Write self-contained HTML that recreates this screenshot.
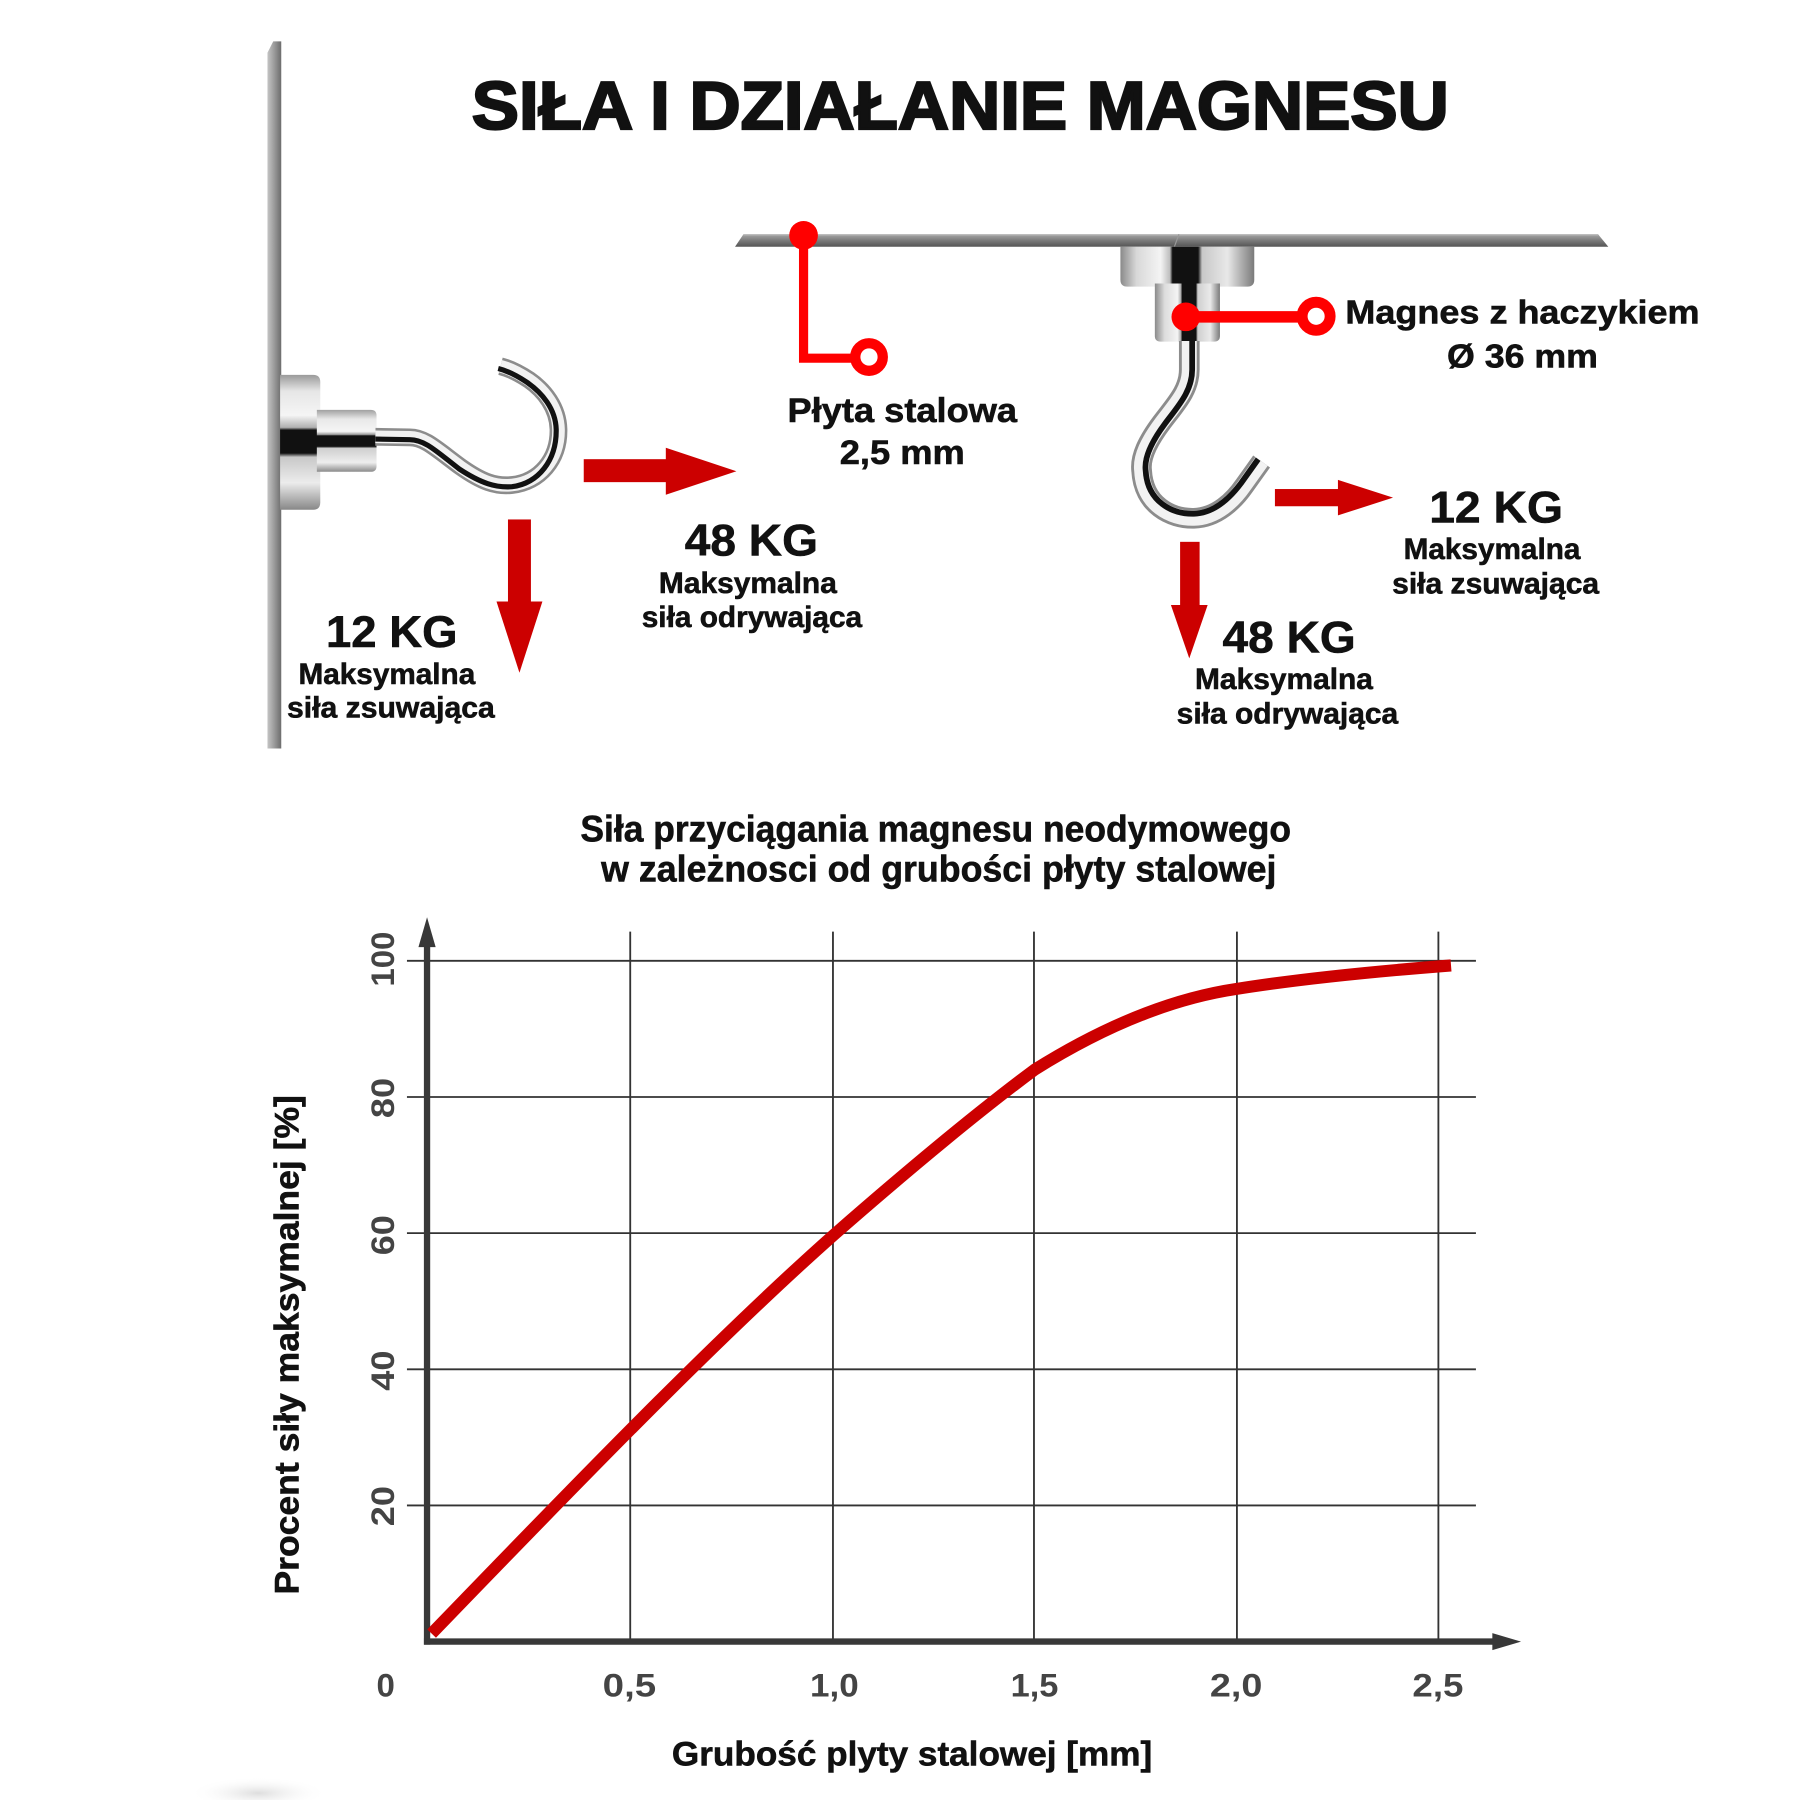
<!DOCTYPE html>
<html>
<head>
<meta charset="utf-8">
<style>
  html,body{margin:0;padding:0;background:#ffffff;}
  svg{display:block;}
  text{font-family:"Liberation Sans", Arial, sans-serif;font-weight:bold;fill:#111;}
  .lbl{stroke:#111;stroke-width:0.5;}
  .tick{fill:#444;}
</style>
</head>
<body>
<svg width="1800" height="1800" viewBox="0 0 1568 1568" xmlns="http://www.w3.org/2000/svg">
  <defs>
    <linearGradient id="plateV" x1="0" y1="0" x2="1" y2="0">
      <stop offset="0" stop-color="#c4c4c4"/>
      <stop offset="0.5" stop-color="#9a9a9a"/>
      <stop offset="1" stop-color="#6c6c6c"/>
    </linearGradient>
    <linearGradient id="plateH" x1="0" y1="0" x2="0" y2="1">
      <stop offset="0" stop-color="#a8a8a8"/>
      <stop offset="0.5" stop-color="#7a7a7a"/>
      <stop offset="1" stop-color="#555"/>
    </linearGradient>
    <linearGradient id="chromeV1" x1="0" y1="0" x2="0" y2="1">
      <stop offset="0" stop-color="#9a9a9a"/>
      <stop offset="0.12" stop-color="#e6e6e6"/>
      <stop offset="0.3" stop-color="#f5f5f5"/>
      <stop offset="0.39" stop-color="#b0b0b0"/>
      <stop offset="0.41" stop-color="#111"/>
      <stop offset="0.58" stop-color="#111"/>
      <stop offset="0.61" stop-color="#c8c8c8"/>
      <stop offset="0.8" stop-color="#ececec"/>
      <stop offset="1" stop-color="#888"/>
    </linearGradient>
    <linearGradient id="chromeV2" x1="0" y1="0" x2="0" y2="1">
      <stop offset="0" stop-color="#a0a0a0"/>
      <stop offset="0.15" stop-color="#e8e8e8"/>
      <stop offset="0.35" stop-color="#f5f5f5"/>
      <stop offset="0.4" stop-color="#999"/>
      <stop offset="0.42" stop-color="#111"/>
      <stop offset="0.59" stop-color="#111"/>
      <stop offset="0.62" stop-color="#cfcfcf"/>
      <stop offset="0.85" stop-color="#eee"/>
      <stop offset="1" stop-color="#8a8a8a"/>
    </linearGradient>
    <linearGradient id="chromeH1" x1="0" y1="0" x2="1" y2="0">
      <stop offset="0" stop-color="#8a8a8a"/>
      <stop offset="0.12" stop-color="#d8d8d8"/>
      <stop offset="0.3" stop-color="#f4f4f4"/>
      <stop offset="0.37" stop-color="#bdbdbd"/>
      <stop offset="0.39" stop-color="#111"/>
      <stop offset="0.58" stop-color="#111"/>
      <stop offset="0.61" stop-color="#c8c8c8"/>
      <stop offset="0.8" stop-color="#e8e8e8"/>
      <stop offset="1" stop-color="#7a7a7a"/>
    </linearGradient>
    <linearGradient id="chromeH2" x1="0" y1="0" x2="1" y2="0">
      <stop offset="0" stop-color="#8a8a8a"/>
      <stop offset="0.15" stop-color="#dcdcdc"/>
      <stop offset="0.35" stop-color="#f4f4f4"/>
      <stop offset="0.4" stop-color="#aaa"/>
      <stop offset="0.42" stop-color="#111"/>
      <stop offset="0.63" stop-color="#111"/>
      <stop offset="0.66" stop-color="#cfcfcf"/>
      <stop offset="0.85" stop-color="#eaeaea"/>
      <stop offset="1" stop-color="#7a7a7a"/>
    </linearGradient>
    <radialGradient id="smudge" cx="0.5" cy="0.5" r="0.5">
      <stop offset="0" stop-color="#cfcfcf" stop-opacity="0.7"/>
      <stop offset="1" stop-color="#ffffff" stop-opacity="0"/>
    </radialGradient>
  </defs>

  <rect x="0" y="0" width="1568" height="1568" fill="#ffffff"/>

  <!-- Title -->
  <text x="411" y="112.5" font-size="59" textLength="851" lengthAdjust="spacingAndGlyphs" stroke="#111" stroke-width="2">SIŁA I DZIAŁANIE MAGNESU</text>

  <!-- Left vertical steel plate -->
  <polygon points="233,46 238,36 245,36 245,652 233,652" fill="url(#plateV)"/>

  <!-- Left magnet -->
  <path d="M244,326.6 L273,326.6 Q279,326.6 279,333 L279,437.6 Q279,444 273,444 L244,444 Z" fill="url(#chromeV1)"/>
  <path d="M276,357 L323,357 Q328,357 328,362 L328,406 Q328,411 323,411 L276,411 Z" fill="url(#chromeV2)"/>

  <!-- Left hook -->
  <g fill="none" stroke-linecap="butt" stroke-linejoin="round">
    <path d="M327,380.5 L357,381 C370,381 380,391 401,406.5 C420,420 432,424 446,422.5 C470,420 487,400 486.5,374 C486,355 474,340 461,331 C452,325 444,321 436,319" stroke="#8c8c8c" stroke-width="15.5"/>
    <path d="M327,380.5 L357,381 C370,381 380,391 401,406.5 C420,420 432,424 446,422.5 C470,420 487,400 486.5,374 C486,355 474,340 461,331 C452,325 444,321 436,319" stroke="#f2f2f2" stroke-width="11"/>
    <path d="M327,382.5 L357,383 C370,383 380,393 400,408.5 C419,421 432,425 446,424 C469,421 485,401 484.5,374 C484,356 472,342 459,333 C450,327 442,323 434,321" stroke="#111" stroke-width="4.5"/>
  </g>

  <!-- Left arrows -->
  <rect x="442.5" y="452.5" width="20" height="72" fill="#cc0000"/>
  <polygon points="432.5,524 472.5,524 452.5,586" fill="#cc0000"/>
  <rect x="508.5" y="400" width="72" height="20" fill="#cc0000"/>
  <polygon points="580,390 580,431 641.5,410.5" fill="#cc0000"/>

  <!-- Left labels -->
  <text class="lbl" x="284" y="563.6" font-size="39" textLength="114.5" lengthAdjust="spacingAndGlyphs">12 KG</text>
  <text class="lbl" x="260" y="596" font-size="25.5" textLength="154" lengthAdjust="spacingAndGlyphs">Maksymalna</text>
  <text class="lbl" x="250" y="625" font-size="25.5" textLength="181" lengthAdjust="spacingAndGlyphs">siła zsuwająca</text>

  <text class="lbl" x="596.5" y="484" font-size="39" textLength="116" lengthAdjust="spacingAndGlyphs">48 KG</text>
  <text class="lbl" x="574" y="516.5" font-size="25.5" textLength="155" lengthAdjust="spacingAndGlyphs">Maksymalna</text>
  <text class="lbl" x="559" y="546" font-size="25.5" textLength="192" lengthAdjust="spacingAndGlyphs">siła odrywająca</text>

  <!-- Horizontal plate (right) -->
  <polygon points="647.7,204 1392,204 1401,215 640.3,215" fill="url(#plateH)"/>
  <line x1="647.7" y1="204.5" x2="1392" y2="204.5" stroke="#bdbdbd" stroke-width="1"/>
  <line x1="1027" y1="204" x2="1023" y2="215" stroke="#9a9a9a" stroke-width="1"/>

  <!-- Right magnet -->
  <path d="M976,215 L1092.6,215 L1092.6,243.7 Q1092.6,249.7 1086.6,249.7 L982,249.7 Q976,249.7 976,243.7 Z" fill="url(#chromeH1)"/>
  <path d="M1006,247 L1062.7,247 L1062.7,292.6 Q1062.7,297.6 1057.7,297.6 L1011,297.6 Q1006,297.6 1006,292.6 Z" fill="url(#chromeH2)"/>

  <!-- Right hook -->
  <g fill="none" stroke-linecap="butt" stroke-linejoin="round">
    <path d="M1036,297 L1036,322 C1036,340 1024,352 1012,368 C1000,384 993,398 994.5,410 C996,440 1020,452 1040,451.5 C1060,451 1075,436 1084,423 L1099,402" stroke="#8c8c8c" stroke-width="18"/>
    <path d="M1036,297 L1036,322 C1036,340 1024,352 1012,368 C1000,384 993,398 994.5,410 C996,440 1020,452 1040,451.5 C1060,451 1075,436 1084,423 L1099,402" stroke="#f2f2f2" stroke-width="13"/>
    <path d="M1038.5,297 L1038.5,322 C1038.5,341 1026,354 1014.5,369.5 C1003,385 996.5,398.5 998,410 C999.5,437 1021,448 1040,447.5 C1058,447 1072,433 1081,421 L1096,400" stroke="#111" stroke-width="5"/>
  </g>

  <!-- Right arrows -->
  <rect x="1110.6" y="426" width="55" height="15" fill="#cc0000"/>
  <polygon points="1165.5,418 1165.5,449 1213.5,433.5" fill="#cc0000"/>
  <rect x="1028" y="472" width="17" height="55.5" fill="#cc0000"/>
  <polygon points="1020,527 1052,527 1036,573.5" fill="#cc0000"/>

  <!-- Red markers -->
  <path d="M700,205 L700,312 L746,312" fill="none" stroke="#ff0000" stroke-width="8"/>
  <circle cx="700" cy="205" r="12.5" fill="#ff0000"/>
  <circle cx="757" cy="311" r="12" fill="#ffffff" stroke="#ff0000" stroke-width="9"/>

  <line x1="1033" y1="276" x2="1136" y2="276" stroke="#ff0000" stroke-width="10"/>
  <circle cx="1033" cy="276" r="12.5" fill="#ff0000"/>
  <circle cx="1146.5" cy="275.5" r="12.2" fill="#ffffff" stroke="#ff0000" stroke-width="9.5"/>

  <!-- Right labels -->
  <text class="lbl" x="686" y="367.5" font-size="30" textLength="200" lengthAdjust="spacingAndGlyphs">Płyta stalowa</text>
  <text class="lbl" x="731.5" y="404" font-size="30" textLength="109" lengthAdjust="spacingAndGlyphs">2,5 mm</text>

  <text class="lbl" x="1172" y="281.8" font-size="29" textLength="308.5" lengthAdjust="spacingAndGlyphs">Magnes z haczykiem</text>
  <text class="lbl" x="1260.5" y="320" font-size="29" textLength="131.5" lengthAdjust="spacingAndGlyphs">Ø 36 mm</text>

  <text class="lbl" x="1245" y="455" font-size="39" textLength="116.5" lengthAdjust="spacingAndGlyphs">12 KG</text>
  <text class="lbl" x="1222.7" y="486.8" font-size="25.5" textLength="154" lengthAdjust="spacingAndGlyphs">Maksymalna</text>
  <text class="lbl" x="1212.7" y="516.8" font-size="25.5" textLength="180.3" lengthAdjust="spacingAndGlyphs">siła zsuwająca</text>

  <text class="lbl" x="1065" y="568.5" font-size="39" textLength="116" lengthAdjust="spacingAndGlyphs">48 KG</text>
  <text class="lbl" x="1041" y="600.2" font-size="25.5" textLength="155" lengthAdjust="spacingAndGlyphs">Maksymalna</text>
  <text class="lbl" x="1025" y="630.2" font-size="25.5" textLength="193" lengthAdjust="spacingAndGlyphs">siła odrywająca</text>

  <!-- Chart title -->
  <text class="lbl" x="505.6" y="733" font-size="32" textLength="619" lengthAdjust="spacingAndGlyphs">Siła przyciągania magnesu neodymowego</text>
  <text class="lbl" x="523.7" y="768" font-size="32" textLength="588.2" lengthAdjust="spacingAndGlyphs">w zależnosci od grubości płyty stalowej</text>

  <!-- Grid -->
  <g stroke="#333" stroke-width="1.6">
    <line x1="354.5" y1="837" x2="1285.7" y2="837"/>
    <line x1="354.5" y1="955.6" x2="1285.7" y2="955.6"/>
    <line x1="354.5" y1="1074.2" x2="1285.7" y2="1074.2"/>
    <line x1="354.5" y1="1192.8" x2="1285.7" y2="1192.8"/>
    <line x1="354.5" y1="1311.4" x2="1285.7" y2="1311.4"/>
    <line x1="549" y1="811.5" x2="549" y2="1430"/>
    <line x1="725.6" y1="811.5" x2="725.6" y2="1430"/>
    <line x1="900.7" y1="811.5" x2="900.7" y2="1430"/>
    <line x1="1077.5" y1="811.5" x2="1077.5" y2="1430"/>
    <line x1="1253" y1="811.5" x2="1253" y2="1430"/>
  </g>

  <!-- Axes -->
  <line x1="372" y1="820" x2="372" y2="1432.7" stroke="#383838" stroke-width="5.5"/>
  <polygon points="372,799 364.5,825 379.5,825" fill="#383838"/>
  <line x1="369.3" y1="1430" x2="1305" y2="1430" stroke="#383838" stroke-width="5.5"/>
  <polygon points="1300,1422.6 1300,1437.4 1325,1430" fill="#383838"/>

  <!-- Curve -->
  <path d="M376,1423 C490,1305 620,1170 726,1076 C790,1020 850,970 901,932 C960,895 1020,870 1077,861.5 C1130,853 1200,846 1264,841" fill="none" stroke="#cc0000" stroke-width="10.5" stroke-linejoin="round"/>

  <!-- Y tick labels -->
  <g class="tick" font-size="28">
    <text class="tick" transform="translate(343,835.5) rotate(-90)" text-anchor="middle" textLength="48" lengthAdjust="spacingAndGlyphs">100</text>
    <text class="tick" transform="translate(343,956.5) rotate(-90)" text-anchor="middle" textLength="35" lengthAdjust="spacingAndGlyphs">80</text>
    <text class="tick" transform="translate(343,1076) rotate(-90)" text-anchor="middle" textLength="35" lengthAdjust="spacingAndGlyphs">60</text>
    <text class="tick" transform="translate(343,1194) rotate(-90)" text-anchor="middle" textLength="35" lengthAdjust="spacingAndGlyphs">40</text>
    <text class="tick" transform="translate(343,1312) rotate(-90)" text-anchor="middle" textLength="35" lengthAdjust="spacingAndGlyphs">20</text>
  </g>

  <!-- X tick labels -->
  <g font-size="28">
    <text class="tick" x="328" y="1478" textLength="16" lengthAdjust="spacingAndGlyphs">0</text>
    <text class="tick" x="525" y="1478" textLength="46.6" lengthAdjust="spacingAndGlyphs">0,5</text>
    <text class="tick" x="705.6" y="1478" textLength="42.4" lengthAdjust="spacingAndGlyphs">1,0</text>
    <text class="tick" x="880.4" y="1478" textLength="41.6" lengthAdjust="spacingAndGlyphs">1,5</text>
    <text class="tick" x="1054" y="1478" textLength="45.7" lengthAdjust="spacingAndGlyphs">2,0</text>
    <text class="tick" x="1230.4" y="1478" textLength="44.4" lengthAdjust="spacingAndGlyphs">2,5</text>
  </g>

  <!-- Axis titles -->
  <text class="lbl" x="585.3" y="1538" font-size="30" textLength="418.4" lengthAdjust="spacingAndGlyphs">Grubość plyty stalowej [mm]</text>
  <text class="lbl" transform="translate(260,1389) rotate(-90)" font-size="30" textLength="435" lengthAdjust="spacingAndGlyphs">Procent siły maksymalnej [%]</text>

  <!-- faint smudge bottom-left -->
  <ellipse cx="225" cy="1562" rx="60" ry="14" fill="url(#smudge)"/>
</svg>
</body>
</html>
